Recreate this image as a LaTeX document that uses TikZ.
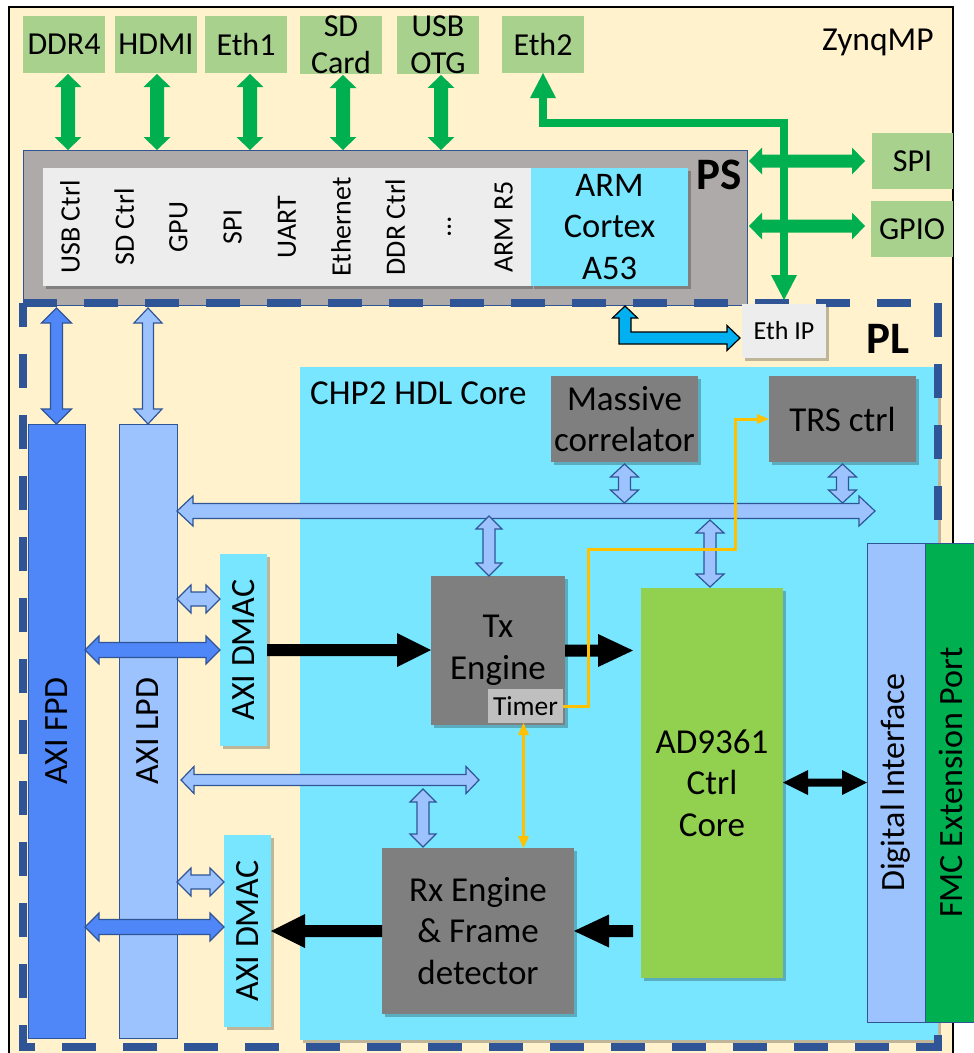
\documentclass[tikz,border=0pt]{standalone}
\usepackage{fontspec}
\setmainfont{Carlito}
\usetikzlibrary{arrows.meta,calc,shadows}
\definecolor{cream}{HTML}{FFF2CC}
\definecolor{gbox}{HTML}{A9D18E}
\definecolor{garrow}{HTML}{00B050}
\definecolor{psgray}{HTML}{AEAAAA}
\definecolor{bord}{HTML}{2F5597}
\definecolor{stripc}{HTML}{EDEDED}
\definecolor{cyanb}{HTML}{79E6FF}
\definecolor{fpdc}{HTML}{5087F8}
\definecolor{lpdc}{HTML}{9DC3FF}
\definecolor{grayb}{HTML}{7F7F7F}
\definecolor{timerc}{HTML}{BFBFBF}
\definecolor{adc}{HTML}{92D050}
\definecolor{orangec}{HTML}{FFC000}
\definecolor{ethblue}{HTML}{00B0F0}
% double-headed block arrow: from, to, half shaft, half head, head length, style
\newcommand\dblk[6]{\path[#6] let \p1=#1, \p2=#2, \n1={atan2(\y2-\y1,\x2-\x1)}, \n2={veclen(\x2-\x1,\y2-\y1)} in [shift={(\p1)},rotate=\n1] (0pt,0pt) -- (#5pt,#4pt) -- (#5pt,#3pt) -- ({\n2-#5pt},#3pt) -- ({\n2-#5pt},#4pt) -- ({\n2},0pt) -- ({\n2-#5pt},-#4pt) -- ({\n2-#5pt},-#3pt) -- (#5pt,-#3pt) -- (#5pt,-#4pt) -- cycle;}
% single-headed block arrow (tip at 'to')
\newcommand\sglk[6]{\path[#6] let \p1=#1, \p2=#2, \n1={atan2(\y2-\y1,\x2-\x1)}, \n2={veclen(\x2-\x1,\y2-\y1)} in [shift={(\p1)},rotate=\n1] (0pt,#3pt) -- ({\n2-#5pt},#3pt) -- ({\n2-#5pt},#4pt) -- ({\n2},0pt) -- ({\n2-#5pt},-#4pt) -- ({\n2-#5pt},-#3pt) -- (0pt,-#3pt) -- cycle;}
\begin{document}
\begin{tikzpicture}[x=1pt,y=-1pt,
  bx/.style={inner sep=0pt,outer sep=0pt,anchor=north west},
  shd/.style={drop shadow={shadow xshift=2.5pt,shadow yshift=-2.5pt,opacity=0.25,fill=black}},
  gb/.style={bx,fill=gbox,font=\fontsize{32}{37}\selectfont,align=center,minimum width=82,minimum height=57},
  big/.style={font=\fontsize{35}{41.5}\selectfont,align=center},
  rot/.style={font=\fontsize{34}{40}\selectfont},
  graybox/.style={bx,fill=grayb,shd,big},
  lbl/.style={anchor=base west,inner sep=0pt},
  bl1/.style={fill=lpdc,draw=bord,line width=1.2pt},
  bl2/.style={fill=fpdc,draw=bord,line width=1.2pt},
  blk/.style={fill=black},
  grn/.style={fill=garrow}]
\useasboundingbox (0,0) rectangle (974,1053);
\clip (0,0) rectangle (974,1053);
\fill[white] (0,0) rectangle (974,1053);
% ZynqMP frame
\node[bx,fill=cream,draw=black,line width=1.3pt,minimum width=944,minimum height=1080] (zynq) at (9,7) {};
\node[lbl,font=\fontsize{33.5}{38}\selectfont] (zlbl) at (822,50) {ZynqMP};
% peripheral boxes
\node[gb] (ddr) at (23,16) {DDR4};
\node[gb] (hdmi) at (115,16) {HDMI};
\node[gb] (eth1) at (205,16) {Eth1};
\node[gb] (sd) at (300,16) {SD\\Card};
\node[gb] (usb) at (397,16) {USB\\OTG};
\node[gb] (eth2) at (502,16) {Eth2};
\node[gb,minimum width=81,minimum height=56] (spi) at (872,133) {SPI};
\node[gb,minimum width=82,minimum height=56] (gpio) at (871,201) {GPIO};
% PS
\node[bx,fill=psgray,draw=bord,line width=1pt,minimum width=724,minimum height=155] (ps) at (23,150) {};
\node[lbl,font=\fontsize{45}{50}\selectfont\bfseries] (pslbl) at (696,189) {PS};
\foreach \t [count=\i from 0] in {USB Ctrl,SD Ctrl,GPU,SPI,UART,Ethernet,DDR Ctrl,…,ARM R5}
  \node[bx,fill=stripc,shd,minimum width=54.2,minimum height=118,font=\fontsize{28}{32}\selectfont] (s\i) at ({43+54.2*\i},168) {\rotatebox{90}{\t}};
\node[bx,fill=cyanb,shd,font=\fontsize{34.5}{41.5}\selectfont,align=center,minimum width=157,minimum height=118] (a53) at (531,168) {ARM\\Cortex\\A53};
% green arrows to PS
\foreach \nm/\dx in {ddr/4,hdmi/1,eth1/4,sd/2,usb/3}
  \dblk{($(\nm.south)+(\dx,1)$)}{($(\nm.south |- ps.north)+(\dx,0)$)}{7}{13.5}{13}{grn};
\dblk{($(ps.east |- spi.west)+(2,0)$)}{($(spi.west)+(-7,0)$)}{6.5}{13.5}{13}{grn};
\dblk{($(ps.east |- gpio.west)+(2,-3)$)}{($(gpio.west)+(-6,-3)$)}{6.5}{13.5}{13}{grn};
% CHP2 core
\node[bx,fill=cyanb,shd,minimum width=638,minimum height=673] (chp) at (300,367) {};
\node[lbl,font=\fontsize{35}{40}\selectfont] (chplbl) at (310,404) {CHP2 HDL Core};
% AXI buses and DMACs
\node[bx,fill=fpdc,draw=bord,line width=1pt,minimum width=57,minimum height=614,rot] (fpd) at (28,424) {\rotatebox{90}{AXI FPD}};
\node[bx,fill=lpdc,draw=bord,line width=1pt,minimum width=58,minimum height=614,rot] (lpd) at (119,424) {\rotatebox{90}{AXI LPD}};
\node[bx,fill=cyanb,shd,minimum width=47,minimum height=192,rot] (dma1) at (220,554) {\rotatebox{90}{AXI DMAC}};
\node[bx,fill=cyanb,shd,minimum width=47,minimum height=192,rot] (dma2) at (224,835) {\rotatebox{90}{AXI DMAC}};
% PL dashed region
\node[bx,minimum width=915,minimum height=744] (pl) at (23,303) {};
\draw[bord,line width=8pt,dash pattern=on 34pt off 27pt] (pl.north west) -- (pl.north east) -- (pl.south east) -- (pl.south west) -- cycle;
\node[lbl,font=\fontsize{45}{50}\selectfont\bfseries] (pllbl) at (866,353) {PL};
% Eth IP
\node[bx,fill=stripc,shd,minimum width=84,minimum height=54,font=\fontsize{26}{30}\selectfont] (ethip) at (742,304) {Eth IP};
\coordinate (ethbend) at (0,123);
\draw[garrow,line width=8pt,arrows={Triangle[width=26pt,length=25pt,line width=0pt]-Triangle[width=26pt,length=25pt,line width=0pt]}] ([yshift=4pt]ethip.north) -- (ethip.north |- ethbend) -| (eth2.south);
\coordinate (psport) at (625,306);
\coordinate (ethport) at ($(ethip.west)+(-2,7)$);
\draw[fill=ethblue,draw=black,line width=1.2pt] let \p1=(psport), \p2=(ethport) in
  (\x1,\y1) -- ({\x1+12.5pt},{\y1-12pt}) -- ({\x1+6pt},{\y1-12pt}) -- ({\x1+6pt},{\y2+6pt}) -- ({\x2-13pt},{\y2+6pt}) -- ({\x2-13pt},{\y2+12.5pt}) -- (\x2,\y2) -- ({\x2-13pt},{\y2-12.5pt}) -- ({\x2-13pt},{\y2-6pt}) -- ({\x1-6pt},{\y2-6pt}) -- ({\x1-6pt},{\y1-12pt}) -- ({\x1-12.5pt},{\y1-12pt}) -- cycle;
% interface and FMC
\node[bx,fill=lpdc,draw=bord,line width=1pt,minimum width=58,minimum height=479,rot] (di) at (867,543) {\rotatebox{90}{Digital Interface}};
\node[bx,fill=garrow,draw=bord,line width=1pt,minimum width=60,minimum height=479] (fmc) at (925,543) {};
\node[rot,rotate=90,anchor=base,inner sep=0pt] (fmclbl) at (fmc.center -| 962,0) {FMC Extension Port};
% core blocks
\node[graybox,minimum width=147,minimum height=86] (corr) at (551,376) {Massive\\correlator};
\node[graybox,minimum width=147,minimum height=86] (trs) at (769,376) {TRS ctrl};
\node[graybox,minimum width=134,minimum height=149] (tx) at (431,576) {Tx\\Engine};
\node[bx,fill=timerc,minimum width=75,minimum height=34,font=\fontsize{27.5}{31}\selectfont] (timer) at (488,689) {Timer};
\node[bx,fill=adc,shd,big,minimum width=142,minimum height=390] (ad) at (641,588) {AD9361\\Ctrl\\Core};
\node[graybox,minimum width=192,minimum height=166] (rx) at (382,848) {Rx Engine\\\& Frame\\detector};
% AXI arrows
\dblk{($(fpd.north |- pl.north)+(0,5)$)}{(fpd.north)}{6}{15}{15}{bl2};
\dblk{($(lpd.north |- pl.north)+(0,5)$)}{(lpd.north)}{5.5}{14}{15}{bl1};
\coordinate (d1a) at (0,599);
\coordinate (d2a) at (0,882);
\coordinate (d2b) at (0,927);
\dblk{(lpd.east |- d1a)}{(dma1.west |- d1a)}{7}{14}{14}{bl1};
\dblk{(fpd.east |- dma1.west)}{(dma1.west)}{7.5}{14}{14}{bl2};
\dblk{(lpd.east |- d2a)}{(dma2.west |- d2a)}{7}{14}{14}{bl1};
\dblk{(fpd.east |- d2b)}{(dma2.west |- d2b)}{7.5}{14}{14}{bl2};
% internal buses
\coordinate (bus1) at (875,511);
\coordinate (bus2) at (479,780);
\dblk{(lpd.east |- bus1)}{(bus1)}{7.5}{15}{16}{bl1};
\dblk{($(lpd.east |- bus2)+(4,0)$)}{(bus2)}{5.5}{13.5}{13}{bl1};
\dblk{($(corr.south)+(0,2)$)}{($(corr.south |- bus1)+(0,-8)$)}{6}{14}{13}{bl1};
\dblk{($(trs.south)+(0,2)$)}{($(trs.south |- bus1)+(0,-8)$)}{6}{14}{13}{bl1};
\dblk{($(tx.north |- bus1)+(-9,5)$)}{($(tx.north)+(-9,0)$)}{6}{13}{13}{bl1};
\dblk{($(ad.north |- bus1)+(-2,9)$)}{($(ad.north)+(-2,-1)$)}{6}{14}{13}{bl1};
\dblk{($(rx.north west |- bus2)+(41,9)$)}{($(rx.north west)+(41,-1)$)}{6}{13}{13}{bl1};
% data path arrows
\sglk{(dma1.east)}{(tx.west |- dma1.east)}{6}{17}{34}{blk};
\sglk{(tx.east)}{($(tx.east -| ad.west)+(-8,0)$)}{6}{16.5}{35}{blk};
\sglk{($(ad.west |- rx.east)+(-8,0)$)}{(rx.east)}{6}{16.5}{35}{blk};
\sglk{(rx.west)}{(rx.west -| dma2.east)}{6}{17}{34}{blk};
\dblk{(ad.east |- di.west)}{(di.west)}{4}{12.5}{25}{blk};
% timer signals
\coordinate (o1) at (588,549);
\coordinate (o2) at (735,549);
\draw[orangec,line width=3pt,arrows={-Triangle[width=10pt,length=12pt,line width=0pt]}] (timer.east) -| (o1) -- (o2) |- (trs.west);
\draw[orangec,line width=3pt,arrows={Triangle[width=11pt,length=12pt,line width=0pt]-Triangle[width=11pt,length=12pt,line width=0pt]}] ($(timer.south)+(-2,0)$) -- ($(timer.south |- rx.north)+(-2,0)$);
\end{tikzpicture}
\end{document}
